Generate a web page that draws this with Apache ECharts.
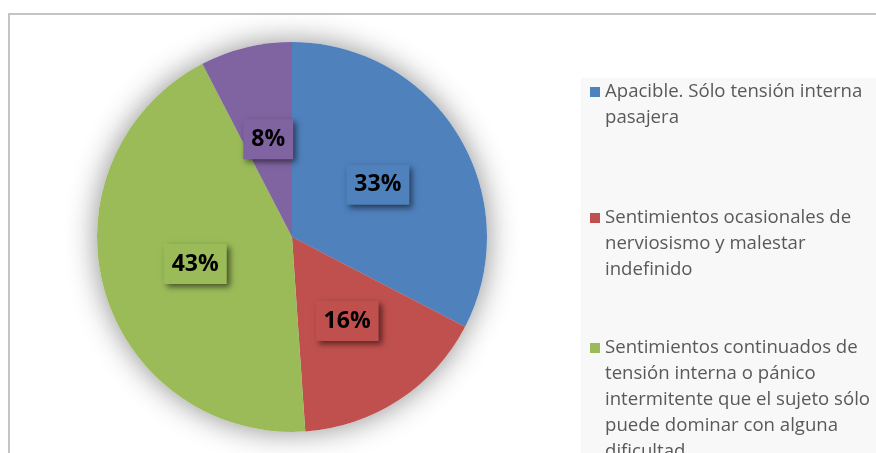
<!DOCTYPE html>
<html>
<head>
<meta charset="utf-8">
<script src="https://cdn.jsdelivr.net/npm/echarts@6.0.0/dist/echarts.min.js"></script>
<style>
  html, body { margin: 0; padding: 0; background: #fff; }
  #frame {
    position: absolute; left: 8px; top: 13px; width: 900px; height: 500px;
    border-left: 2px solid #c4c4c4; border-top: 2px solid #c4c4c4;
  }
  #chart { position: absolute; left: 0; top: 0; width: 876px; height: 453px; }
</style>
</head>
<body>
<div id="frame"></div>
<div id="chart"></div>
<script>
// respuestas (conteos)
const categories = [
  'Apacible. Sólo tensión interna pasajera',
  'Sentimientos ocasionales de nerviosismo y malestar indefinido',
  'Sentimientos continuados de tensión interna o pánico intermitente que el sujeto sólo puede dominar con alguna dificultad',
  'Otros'
];
const values = [30, 15, 40, 7];
const colors = ['#4f81bd', '#c0504d', '#9bbb59', '#8064a2'];

const lineH = 26;
// number of wrapped lines per legend entry (to size each entry)
const legendLines = [2, 3, 5];
const legendTops = [79, 205, 335];

// icon: square on the first text line, invisible points stretch the box
const iconFor = (n) => 'path://M0,8h10v10h-10zM0,0L0,0M0,' + (n * lineH) + 'L0,' + (n * lineH);

const chart = echarts.init(document.getElementById('chart'));

const legends = legendLines.map((n, i) => ({
  data: [categories[i]],
  left: 590,
  top: legendTops[i],
  padding: 0,
  icon: iconFor(n),
  itemWidth: 10,
  itemHeight: n * lineH,
  itemStyle: { borderWidth: 0 },
  selectedMode: false,
  textStyle: {
    fontFamily: 'Open Sans',
    fontSize: 18.6,
    color: '#595959',
    lineHeight: lineH,
    width: 285,
    overflow: 'break'
  }
}));

chart.setOption({
  animation: false,
  graphic: [{
    type: 'rect',
    z: -10,
    shape: { x: 581, y: 78, width: 300, height: 380 },
    style: { fill: '#f8f8f8' }
  }],
  legend: legends,
  series: [
    {
      type: 'pie',
      z: 3,
      center: [292, 237],
      radius: 195,
      startAngle: 90,
      clockwise: true,
      itemStyle: { borderWidth: 0 },
      emphasis: { disabled: true },
      labelLine: { show: false },
      label: {
        show: true,
        position: 'inside',
        formatter: (p) => Math.round(p.percent) + '%',
        fontFamily: 'Open Sans',
        fontWeight: 'bold',
        fontSize: 23,
        color: '#000',
        lineHeight: 24,
        padding: [8, 8],
        shadowColor: 'rgba(0,0,0,0.55)',
        shadowBlur: 6,
        shadowOffsetX: 3,
        shadowOffsetY: 3
      },
      data: categories.map((name, i) => ({
        name: name,
        value: values[i],
        itemStyle: { color: colors[i] },
        label: { backgroundColor: colors[i] }
      }))
    },
    {
      // soft glow under the pie
      type: 'pie',
      z: 1,
      silent: true,
      center: [292, 237],
      radius: 195,
      startAngle: 90,
      label: { show: false },
      labelLine: { show: false },
      emphasis: { disabled: true },
      itemStyle: {
        color: '#ffffff',
        borderWidth: 0,
        shadowBlur: 30,
        shadowColor: 'rgba(0,0,0,0.45)'
      },
      data: categories.map((name, i) => ({ name: name, value: values[i] }))
    }
  ]
});
</script>
</body>
</html>
